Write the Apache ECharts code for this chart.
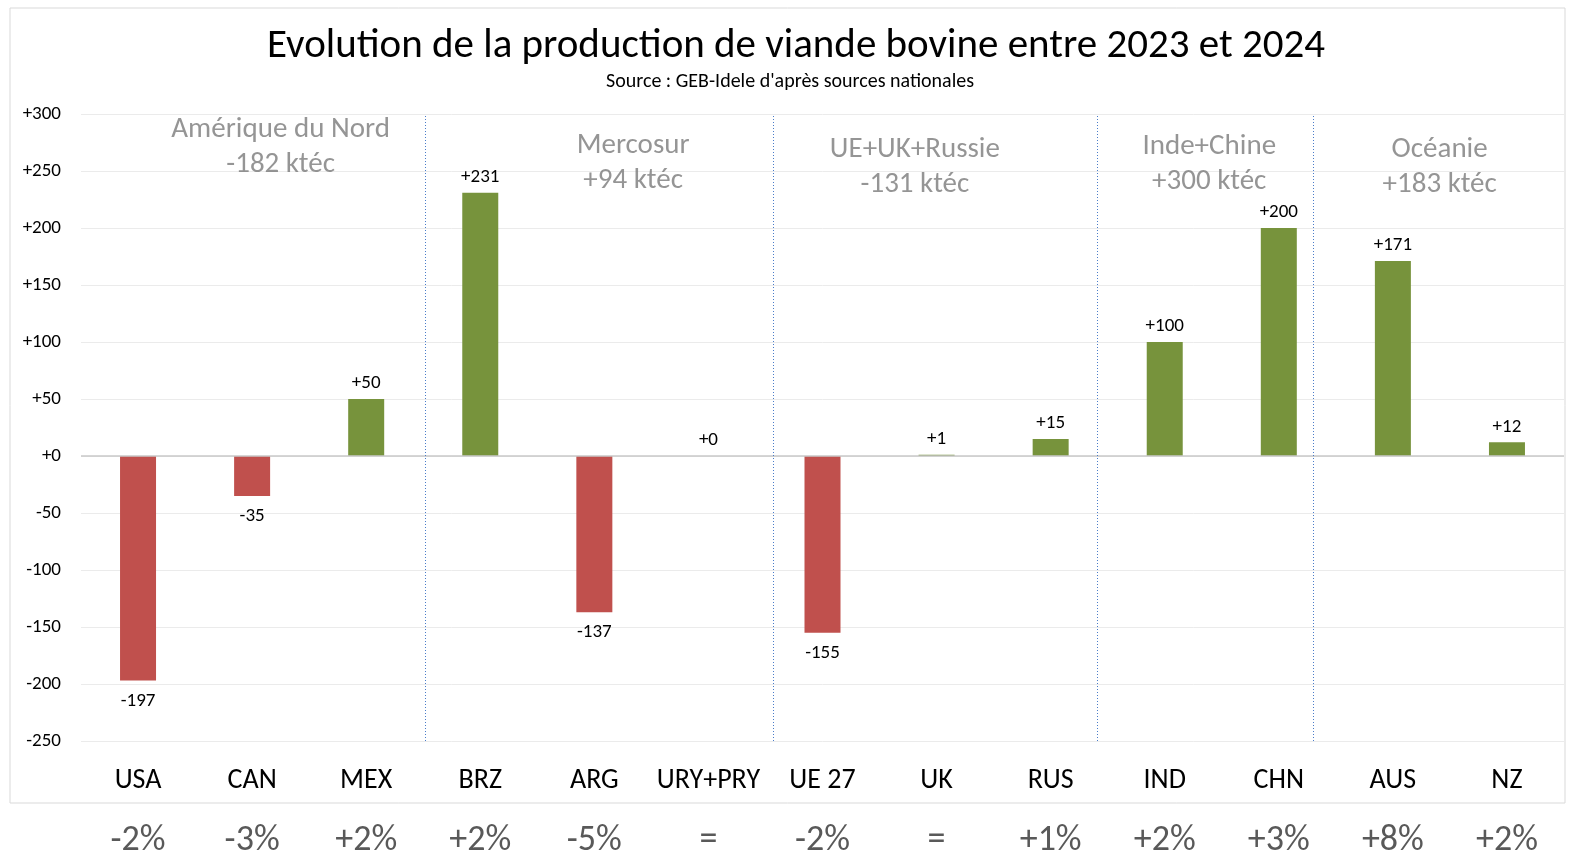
<!DOCTYPE html>
<html>
<head>
<meta charset="utf-8">
<script src="https://cdn.jsdelivr.net/npm/echarts@6/dist/echarts.min.js"></script>
<style>
  html, body { margin: 0; padding: 0; background: #fff; }
  #chart { width: 1569px; height: 852px; }
</style>
</head>
<body>
<div id="chart"></div>
<script>
// données (ktéc)
var countries = ['USA', 'CAN', 'MEX', 'BRZ', 'ARG', 'URY+PRY', 'UE 27', 'UK', 'RUS', 'IND', 'CHN', 'AUS', 'NZ'];
var evolution = [-197, -35, 50, 231, -137, 0, -155, 1, 15, 100, 200, 171, 12];
var evolutionPct = ['-2%', '-3%', '+2%', '+2%', '-5%', '=', '-2%', '=', '+1%', '+2%', '+3%', '+8%', '+2%'];
var regions = ['Amérique du Nord', 'Mercosur', 'UE+UK+Russie', 'Inde+Chine', 'Océanie'];
var regionTotals = ['-182 ktéc', '+94 ktéc', '-131 ktéc', '+300 ktéc', '+183 ktéc'];
var yTicks = [-250, 300, 50]; // min, max, pas

// placement des étiquettes de région et des séparateurs (unités de l'axe x caché 0..13)
var regionX = [1.75, 4.84, 7.31, 9.89, 11.91];
var regionY = [271, 257, 253, 256, 253];
var separatorsX = [3.02, 6.07, 8.91, 10.80];

var font = 'Carlito, "Open Sans", "Noto Sans", sans-serif';
var chart = echarts.init(document.getElementById('chart'));

function fmt(v) {
  return v > 0 ? '+' + v : (v < 0 ? '' + v : '+0');
}

var barData = evolution.map(function (v) {
  return {
    value: v,
    itemStyle: { color: v < 0 ? '#c0504d' : '#77933c' },
    label: { position: v < 0 ? 'bottom' : 'top', distance: v < 0 ? 11 : 6 }
  };
});

var regionData = regions.map(function (r, i) {
  return { name: r, value: [regionX[i], regionY[i]], total: regionTotals[i] };
});

chart.setOption({
  animation: false,
  textStyle: { fontFamily: font },
  title: [{
    text: 'Evolution de la production de viande bovine entre 2023 et 2024',
    left: 267,
    top: 26,
    padding: 0,
    textStyle: { fontSize: 41, fontWeight: 'normal', color: '#000', fontFamily: font }
  }, {
    text: "Source : GEB-Idele d'après sources nationales",
    left: 606,
    top: 72,
    padding: 0,
    textStyle: { fontSize: 20, fontWeight: 'normal', color: '#000', fontFamily: font }
  }],
  graphic: [{
    type: 'rect',
    shape: { x: 10, y: 8, width: 1555, height: 795 },
    style: { fill: 'none', stroke: '#d9d9d9', lineWidth: 1 },
    silent: true
  }],
  grid: { left: 81, right: 5, top: 114, bottom: 111, outerBoundsMode: 'none' },
  xAxis: [{
    type: 'category',
    data: countries,
    axisLine: { show: false, onZero: false },
    axisTick: { show: false },
    axisLabel: { fontSize: 28, color: '#000', margin: 26, interval: 0 }
  }, {
    type: 'value',
    min: 0,
    max: 13,
    show: false
  }, {
    type: 'category',
    data: evolutionPct,
    position: 'bottom',
    axisLine: { show: false, onZero: false },
    axisTick: { show: false },
    axisLabel: { fontSize: 36, color: '#595959', margin: 82, interval: 0 }
  }],
  yAxis: {
    type: 'value',
    min: yTicks[0],
    max: yTicks[1],
    interval: yTicks[2],
    axisLine: { show: false },
    axisTick: { show: false },
    axisLabel: { fontSize: 19, color: '#000', margin: 20, formatter: fmt },
    splitLine: { lineStyle: { color: '#ebebeb', width: 1 } }
  },
  series: [{
    type: 'bar',
    data: barData,
    barWidth: 36,
    label: {
      show: true,
      fontSize: 19,
      color: '#000',
      formatter: function (p) { return fmt(p.value); }
    },
    markLine: {
      silent: true,
      symbol: 'none',
      label: { show: false },
      lineStyle: { color: '#c8c8c8', type: 'solid', width: 1.5 },
      data: [{ yAxis: 0 }]
    }
  }, {
    type: 'scatter',
    xAxisIndex: 1,
    data: regionData,
    symbolSize: 0,
    label: {
      show: true,
      position: 'inside',
      fontSize: 29,
      lineHeight: 35,
      color: '#7a7a7a',
      formatter: function (p) { return p.name + '\n' + p.data.total; }
    },
    markLine: {
      silent: true,
      symbol: 'none',
      label: { show: false },
      lineStyle: { color: '#4a7cc9', type: [1, 2], width: 1 },
      data: separatorsX.map(function (x) { return { xAxis: x }; })
    }
  }]
});
</script>
</body>
</html>
